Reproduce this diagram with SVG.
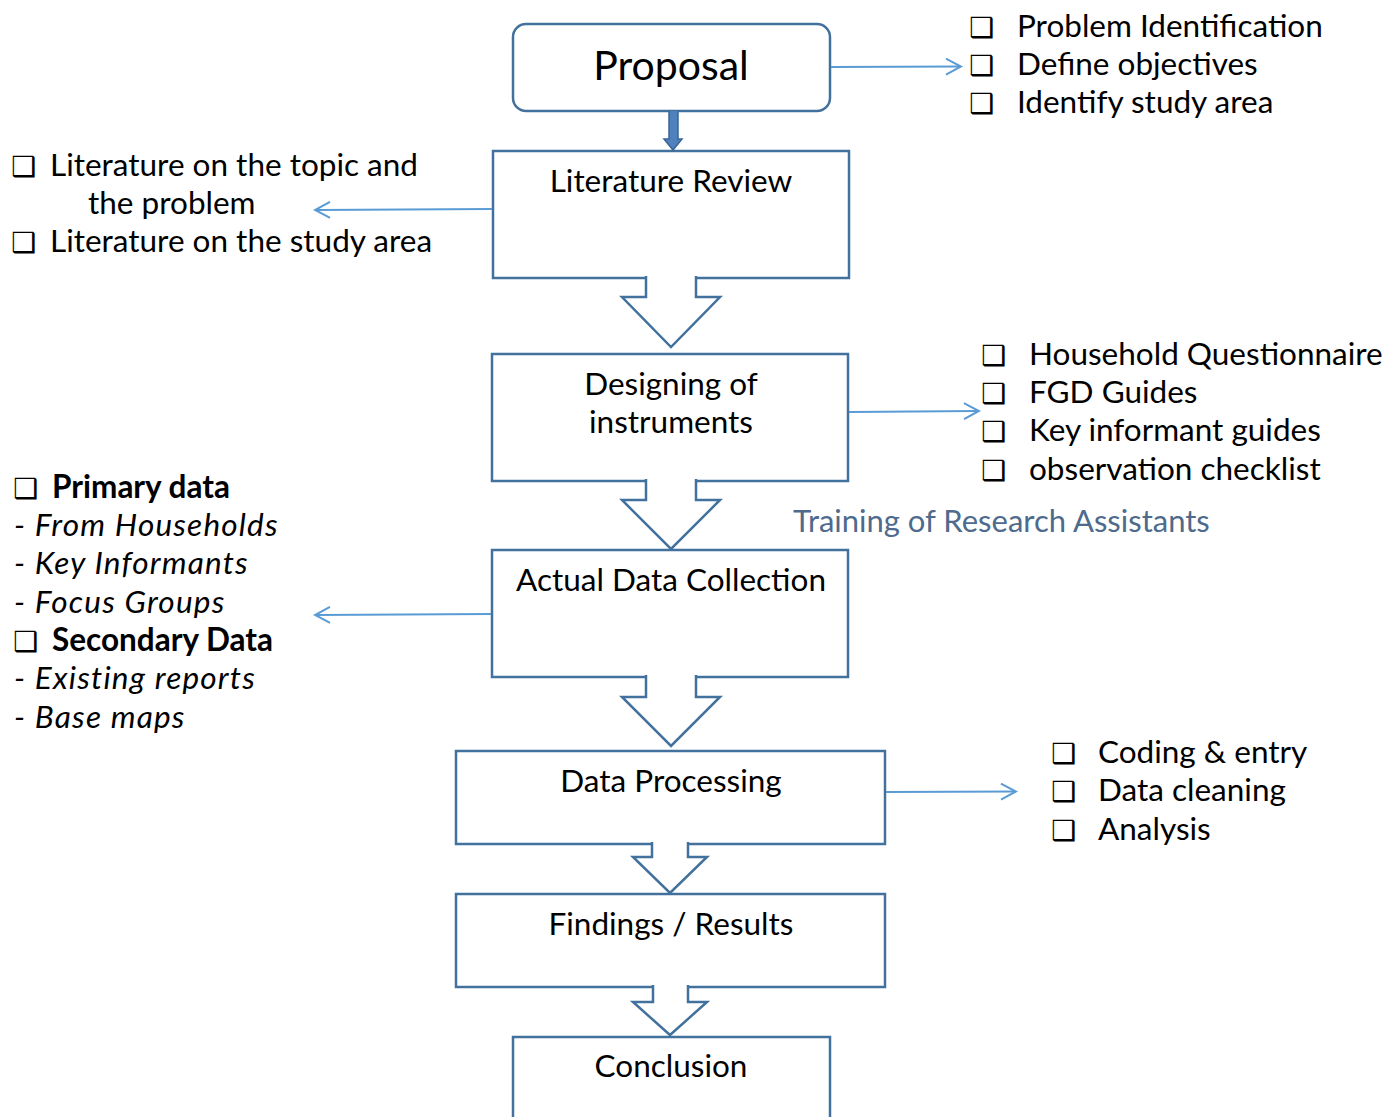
<svg xmlns="http://www.w3.org/2000/svg" width="1390" height="1117" viewBox="0 0 1390 1117">
<style>
.box{fill:#fff;stroke:#41719C;stroke-width:2.5}
.blk{fill:#fff;stroke:#41719C;stroke-width:2.5;stroke-linejoin:miter}
.t{font-family:Lato,"Open Sans","Liberation Sans",sans-serif;fill:#000}
.bt{font-size:31.5px;text-anchor:middle}
.li{font-size:31.5px}
.cb{font-family:"DejaVu Sans",sans-serif;font-size:28px;font-weight:bold;fill:#000}
.side{stroke:#5B9BD5;stroke-width:2;fill:none}
.it{font-style:italic;letter-spacing:1.2px}
.bd{font-weight:bold}
</style>
<defs>
<marker id="ah" markerWidth="18" markerHeight="18" refX="15" refY="9" orient="auto" markerUnits="userSpaceOnUse">
<path d="M1,1 L16,9 L1,17" fill="none" stroke="#5B9BD5" stroke-width="2"/>
</marker>
</defs>

<g id="node-proposal">
<rect class="box" x="513" y="24" width="317" height="87" rx="13"/>
<text class="t" x="671" y="80" font-size="41" text-anchor="middle">Proposal</text>
</g>

<g id="node-literature">
<rect class="box" x="493" y="151" width="356" height="127"/>
<text class="t bt" x="671" y="192">Literature Review</text>
</g>

<g id="node-designing">
<rect class="box" x="492" y="354" width="356" height="127"/>
<text class="t bt" x="671" y="395">Designing of</text>
<text class="t bt" x="671" y="433">instruments</text>
</g>

<g id="node-collection">
<rect class="box" x="492" y="550" width="356" height="127"/>
<text class="t bt" x="671" y="591">Actual Data Collection</text>
</g>

<g id="node-processing">
<rect class="box" x="456" y="751" width="429" height="93"/>
<text class="t bt" x="671" y="792">Data Processing</text>
</g>

<g id="node-findings">
<rect class="box" x="456" y="894" width="429" height="93"/>
<text class="t bt" x="671" y="935">Findings / Results</text>
</g>

<g id="node-conclusion">
<rect class="box" x="513" y="1037" width="317" height="100"/>
<text class="t bt" x="671" y="1077">Conclusion</text>
</g>

<g id="connectors">
<path d="M669,111 V139 H664 L673,150 L682,139 H678 V111" fill="#4F81BD" stroke="#3A6595" stroke-width="1.5"/>
<path class="blk" d="M646,276 V297 H622 L671,347 L720,297 H696 V276"/>
<path class="blk" d="M646,479 V500 H622 L671,549 L720,500 H696 V479"/>
<path class="blk" d="M646,675 V697 H622 L671,746 L720,697 H696 V675"/>
<path class="blk" d="M652,842 V857 H633 L670,893 L707,857 H688 V842"/>
<path class="blk" d="M653,985 V1002 H633 L670,1035 L707,1002 H688 V985"/>
<line class="side" x1="831" y1="67" x2="960" y2="66.5" marker-end="url(#ah)"/>
<line class="side" x1="492" y1="209" x2="316" y2="210" marker-end="url(#ah)"/>
<line class="side" x1="849" y1="412" x2="978" y2="411" marker-end="url(#ah)"/>
<line class="side" x1="491" y1="614" x2="316" y2="615" marker-end="url(#ah)"/>
<line class="side" x1="886" y1="792" x2="1015" y2="791.5" marker-end="url(#ah)"/>
</g>

<g id="list-proposal">
<text class="cb" x="969" y="37">❑</text>
<text class="cb" x="969" y="75">❑</text>
<text class="cb" x="969" y="113">❑</text>
<text class="t li" x="1017" y="37">Problem Identification</text>
<text class="t li" x="1017" y="75">Define objectives</text>
<text class="t li" x="1017" y="113">Identify study area</text>
</g>

<g id="list-literature">
<text class="cb" x="11" y="176">❑</text>
<text class="t li" x="50" y="176">Literature on the topic and</text>
<text class="t li" x="88" y="214">the problem</text>
<text class="cb" x="11" y="252">❑</text>
<text class="t li" x="50" y="252">Literature on the study area</text>
</g>

<g id="list-instruments">
<text class="cb" x="981" y="365">❑</text>
<text class="cb" x="981" y="403">❑</text>
<text class="cb" x="981" y="441">❑</text>
<text class="cb" x="981" y="480">❑</text>
<text class="t li" x="1029" y="365">Household Questionnaire</text>
<text class="t li" x="1029" y="403">FGD Guides</text>
<text class="t li" x="1029" y="441">Key informant guides</text>
<text class="t li" x="1029" y="480">observation checklist</text>
</g>

<text id="training" class="t" x="793" y="532" font-size="31" style="fill:#4E6A8C">Training of Research Assistants</text>

<g id="list-data">
<text class="cb" x="13" y="498">❑</text>
<text class="t li bd" x="52" y="498">Primary data</text>
<text class="t li it" x="14" y="536">- From Households</text>
<text class="t li it" x="14" y="574">- Key Informants</text>
<text class="t li it" x="14" y="613">- Focus Groups</text>
<text class="cb" x="13" y="651">❑</text>
<text class="t li bd" x="52" y="651">Secondary Data</text>
<text class="t li it" x="14" y="689">- Existing reports</text>
<text class="t li it" x="14" y="728">- Base maps</text>
</g>

<g id="list-processing">
<text class="cb" x="1051" y="763">❑</text>
<text class="cb" x="1051" y="801">❑</text>
<text class="cb" x="1051" y="840">❑</text>
<text class="t li" x="1098" y="763">Coding &amp; entry</text>
<text class="t li" x="1098" y="801">Data cleaning</text>
<text class="t li" x="1098" y="840">Analysis</text>
</g>
</svg>
